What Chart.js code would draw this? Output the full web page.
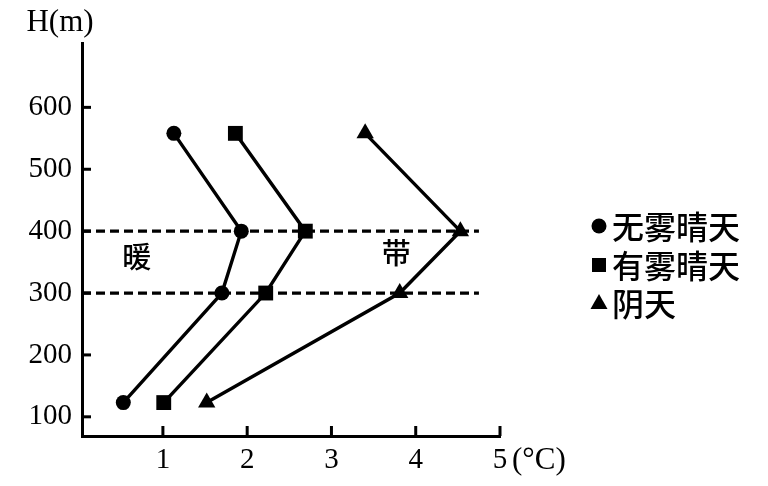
<!DOCTYPE html>
<html><head><meta charset="utf-8">
<script src="https://cdn.jsdelivr.net/npm/chart.js@4"></script>
<style>html,body{margin:0;padding:0;background:#fff}#wrap{width:768px;height:486px;position:relative}</style>
</head><body><div id="wrap"><canvas id="c"></canvas></div>
<script>
// ---- data ----
const seriesNames = ['无雾晴天', '有雾晴天', '阴天'];
const clearX    = [0.53, 1.70, 1.93, 1.13];
const clearH    = [123, 300, 400, 558];
const foggyX    = [1.01, 2.22, 2.69, 1.86];
const foggyH    = [123, 300, 400, 558];
const overcastX = [1.52, 3.81, 4.53, 3.40];
const overcastH = [123, 300, 400, 558];
const xTicks = [1, 2, 3, 4, 5];
const yTicks = [100, 200, 300, 400, 500, 600];
const bandLevels = [300, 400];
const bandChars = ['暖', '带'];
const yTitle = 'H(m)';
const xUnit = '(°C)';

const pts = (xs, hs) => xs.map((x, i) => ({x: x, y: hs[i]}));
const SERIF = '"Liberation Serif", "DejaVu Serif", serif';
const CJK = '"Noto Sans CJK SC", sans-serif';

const styles = [
  {pointStyle: 'circle', radius: 7.5},
  {pointStyle: 'rect', radius: 10.5},
  {pointStyle: 'triangle', radius: 10}
];
const seriesData = [pts(clearX, clearH), pts(foggyX, foggyH), pts(overcastX, overcastH)];

const datasets = seriesNames.map((n, i) => ({
  label: n,
  data: seriesData[i],
  showLine: true,
  borderColor: '#000',
  backgroundColor: '#000',
  borderWidth: 3.4,
  pointStyle: styles[i].pointStyle,
  pointRadius: styles[i].radius,
  pointHoverRadius: styles[i].radius,
  pointBorderWidth: 0,
  pointBackgroundColor: '#000',
  clip: false
}));

const decor = {
  id: 'decor',
  beforeDatasetsDraw(chart) {
    const {ctx, scales: {x, y}} = chart;
    ctx.save();
    ctx.strokeStyle = '#000';
    ctx.lineWidth = 3.2;
    ctx.setLineDash([9, 5]);
    bandLevels.forEach(h => {
      const py = y.getPixelForValue(h);
      ctx.beginPath();
      ctx.moveTo(x.left, py);
      ctx.lineTo(x.getPixelForValue(4.75), py);
      ctx.stroke();
    });
    ctx.setLineDash([]);
    // band characters
    ctx.fillStyle = '#000';
    ctx.font = '500 29px ' + CJK;
    ctx.textAlign = 'center';
    ctx.textBaseline = 'middle';
    ctx.fillText(bandChars[0], x.getPixelForValue(0.69), y.getPixelForValue(358));
    ctx.fillText(bandChars[1], x.getPixelForValue(3.77), y.getPixelForValue(364));
    ctx.restore();
  },
  afterDraw(chart) {
    const {ctx, scales: {x, y}} = chart;
    ctx.save();
    ctx.strokeStyle = '#000';
    ctx.lineWidth = 3;
    // inward tick marks
    yTicks.forEach(v => {
      const py = y.getPixelForValue(v);
      ctx.beginPath(); ctx.moveTo(x.left, py); ctx.lineTo(x.left + 9, py); ctx.stroke();
    });
    xTicks.forEach(v => {
      const px = x.getPixelForValue(v);
      ctx.beginPath(); ctx.moveTo(px, y.bottom); ctx.lineTo(px, y.bottom - 10); ctx.stroke();
    });
    // titles
    ctx.fillStyle = '#000';
    ctx.font = '31px ' + SERIF;
    ctx.textAlign = 'center';
    ctx.textBaseline = 'middle';
    ctx.fillText(yTitle, 60, 23);
    ctx.textAlign = 'left';
    ctx.fillText(xUnit, x.right + 12, 461);
    // legend
    const rows = [226, 265, 303];
    chart.data.datasets.forEach((ds, i) => {
      const cy = rows[i];
      const cx = 599;
      ctx.fillStyle = '#000';
      ctx.beginPath();
      if (ds.pointStyle === 'circle') {
        ctx.arc(cx, cy, 7.5, 0, Math.PI * 2);
      } else if (ds.pointStyle === 'rect') {
        ctx.rect(cx - 7, cy - 7, 14, 14);
      } else {
        ctx.moveTo(cx, cy - 9); ctx.lineTo(cx + 8.5, cy + 6); ctx.lineTo(cx - 8.5, cy + 6); ctx.closePath();
      }
      ctx.fill();
      ctx.font = '500 32px ' + CJK;
      ctx.textAlign = 'left';
      ctx.textBaseline = 'middle';
      ctx.fillText(ds.label, 612, cy + 1);
    });
    ctx.restore();
  }
};

new Chart(document.getElementById('c'), {
  type: 'scatter',
  data: {datasets},
  options: {
    responsive: true,
    maintainAspectRatio: false,
    animation: false,
    events: [],
    layout: {padding: {left: 0, right: 268, top: 43, bottom: 0}},
    plugins: {legend: {display: false}, tooltip: {enabled: false}},
    scales: {
      x: {
        type: 'linear', min: 0.04, max: 5,
        afterBuildTicks: s => { s.ticks = xTicks.map(v => ({value: v})); },
        afterFit: s => { s.height = 50; },
        grid: {display: false, drawTicks: false},
        border: {display: true, color: '#000', width: 3},
        ticks: {color: '#000', padding: 7, font: {family: SERIF, size: 29}}
      },
      y: {
        type: 'linear', min: 69, max: 704,
        afterBuildTicks: s => { s.ticks = yTicks.map(v => ({value: v})); },
        afterFit: s => { s.width = 82; },
        grid: {display: false, drawTicks: false},
        border: {display: true, color: '#000', width: 3},
        ticks: {color: '#000', padding: 10, font: {family: SERIF, size: 29}}
      }
    }
  },
  plugins: [decor]
});
</script></body></html>
